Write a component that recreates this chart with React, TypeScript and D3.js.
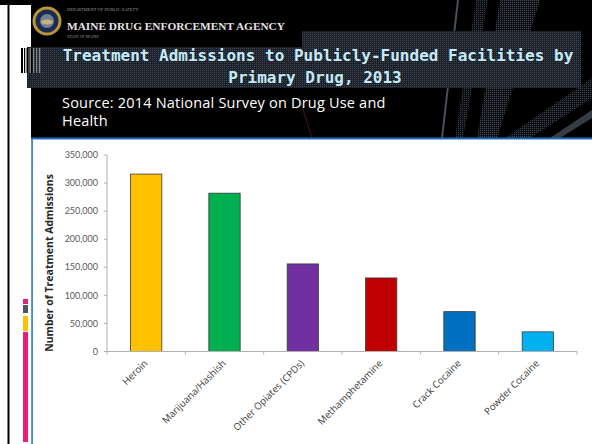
import React from "react";
import * as d3 from "d3";

const categories = [
  "Heroin",
  "Marijuana/Hashish",
  "Other Opiates (CPDs)",
  "Methamphetamine",
  "Crack Cocaine",
  "Powder Cocaine",
];
const admissions = [316000, 282000, 156000, 131000, 71000, 35000];
const barColors = ["#FFC000", "#00B050", "#7030A0", "#C00000", "#0070C0", "#00B0F0"];
const yTicks = [0, 50000, 100000, 150000, 200000, 250000, 300000, 350000];
const titleLines = ["Treatment Admissions to Publicly-Funded Facilities by", "Primary Drug, 2013"];
const sourceLines = ["Source: 2014 National Survey on Drug Use and", "Health"];

const W = 592;
const H = 444;

export default function App() {
  const x = d3.scaleBand<string>().domain(categories).range([107, 577]).paddingInner(0.6).paddingOuter(0.3);
  const y = d3.scaleLinear().domain([0, 350000]).range([351.5, 155]);
  const fmt = d3.format(",");
  const step = x.step();
  const boundaries = d3.range(categories.length + 1).map((i) => 107 + i * step);
  const labelFont = "Lato, 'Open Sans', sans-serif";
  const openFont = "'Open Sans', Lato, sans-serif";

  return (
    <svg width={W} height={H} style={{ position: "fixed", left: 0, top: 0 }} xmlns="http://www.w3.org/2000/svg">
      <defs>
        <pattern id="dots" width="2" height="2" patternUnits="userSpaceOnUse">
          <rect width="2" height="2" fill="#1b2029" />
          <rect width="1" height="1" fill="#3c4654" />
        </pattern>
        <pattern id="dots2" width="2" height="2" patternUnits="userSpaceOnUse">
          <rect width="2" height="2" fill="#101318" />
          <rect width="1" height="1" fill="#4a5563" />
        </pattern>
      </defs>
      <rect width={W} height={H} fill="#ffffff" />
      {/* top border */}
      <rect x={0} y={0} width={W} height={5} fill="#000" />
      {/* header */}
      <rect x={31} y={0} width={W - 31} height={138} fill="#000" />
      {/* diagonal streaks */}
      <polygon points="500,0 540,0 497,138 477,138" fill="url(#dots2)" opacity={0.85} />
      <polygon points="476,0 488,0 463,138 455,138" fill="url(#dots2)" opacity={0.7} />
      <polygon points="457,0 459,0 443,138 441,138" fill="#5a6472" opacity={0.8} />
      <polygon points="592,78 592,98 530,138 505,138" fill="url(#dots2)" opacity={0.8} />
      <polygon points="592,110 592,118 560,138 550,138" fill="#5a6472" opacity={0.6} />
      <line x1={300} y1={100} x2={312} y2={138} stroke="#7a2a2a" strokeWidth={0.6} />
      {/* title box */}
      <polygon points="27,47 302,47 302,31 581,31 581,88 27,88" fill="url(#dots)" />
      {/* barcode */}
      <rect x={21} y={48} width={11} height={25} fill="#fff" />
      {[21, 24, 26.5, 28.5, 30.5].map((bx, i) => (
        <rect key={i} x={bx} y={48} width={i % 2 === 0 ? 2 : 1.2} height={25} fill="#000" />
      ))}
      {[33, 36, 39].map((bx, i) => (
        <rect key={"g" + i} x={bx} y={48} width={1.2} height={25} fill="#888" />
      ))}
      {/* logo */}
      <circle cx={47} cy={21} r={13} fill="#1d2b4f" stroke="#b8963a" strokeWidth={3} />
      <circle cx={47} cy={21} r={7} fill="#6f7f9a" />
      <ellipse cx={47} cy={22} rx={6} ry={2.5} fill="#c9b27a" />
      <text x={67} y={11} fontSize={4.5} fill="#9a9a9a" fontFamily="'Liberation Serif', serif">DEPARTMENT OF PUBLIC SAFETY</text>
      <text x={67} y={30} fontSize={11.3} fontWeight="bold" fill="#e4e4e4" fontFamily="'Liberation Serif', serif">MAINE DRUG ENFORCEMENT AGENCY</text>
      <text x={67} y={38} fontSize={4} fill="#9a9a9a" fontFamily="'Liberation Serif', serif">STATE OF MAINE</text>
      {/* title */}
      <text x={318} y={61} textAnchor="middle" fontSize={16} fontWeight="bold" fill="#c5eaf7" fontFamily="'DejaVu Sans Mono', monospace">{titleLines[0]}</text>
      <text x={315} y={83} textAnchor="middle" fontSize={16} fontWeight="bold" fill="#c5eaf7" fontFamily="'DejaVu Sans Mono', monospace">{titleLines[1]}</text>
      {/* source */}
      {sourceLines.map((s, i) => (
        <text key={i} x={62} y={108 + i * 18} fontSize={14.5} fill="#fff" fontFamily={openFont} letterSpacing={0.2}>{s}</text>
      ))}
      {/* blue rules */}
      <rect x={31} y={137.5} width={W - 31} height={2} fill="#1f6fc0" />
      <rect x={31.3} y={138} width={1.5} height={H - 138} fill="#1f6fc0" />
      {/* left black line */}
      <rect x={7.5} y={5} width={2} height={H - 5} fill="#000" />
      {/* left color bars */}
      <rect x={23} y={299} width={5} height={5} fill="#E91E7A" />
      <rect x={23} y={305} width={5} height={8} fill="#4a5568" />
      <rect x={23} y={316} width={5} height={15} fill="#FFC000" />
      <rect x={23} y={332} width={5} height={110} fill="#E91E7A" />

      {/* chart */}
      <g>
        {categories.map((c, i) => (
          <rect
            key={c}
            x={x(c)!}
            y={y(admissions[i])}
            width={x.bandwidth()}
            height={y(0) - y(admissions[i])}
            fill={barColors[i]}
            stroke="#3a3a3a"
            strokeWidth={0.8}
          />
        ))}
        {/* y axis */}
        <line x1={107} x2={107} y1={y(0)} y2={y(350000)} stroke="#b0b0b0" strokeWidth={1} />
        {yTicks.map((t) => (
          <g key={t}>
            <line x1={104} x2={107} y1={y(t)} y2={y(t)} stroke="#b0b0b0" />
            <text x={98} y={y(t)} dy="0.35em" textAnchor="end" fontSize={9} fill="#595959" fontFamily={labelFont}>{fmt(t)}</text>
          </g>
        ))}
        {/* x axis */}
        <line x1={107} x2={577} y1={y(0)} y2={y(0)} stroke="#b0b0b0" strokeWidth={1} />
        {boundaries.map((bx, i) => (
          <line key={i} x1={bx} x2={bx} y1={y(0)} y2={y(0) + 3} stroke="#b0b0b0" />
        ))}
        {categories.map((c) => {
          const cx = x(c)! + x.bandwidth() / 2 + 2;
          const cy = 364;
          return (
            <text key={c} x={cx} y={cy} textAnchor="end" fontSize={9.7} fill="#404040" fontFamily={openFont} transform={`rotate(-45, ${cx}, ${cy})`}>{c}</text>
          );
        })}
        <text transform="translate(53,263) rotate(-90)" textAnchor="middle" fontSize={10.5} fontWeight="bold" fill="#262626" fontFamily={openFont}>Number of Treatment Admissions</text>
      </g>
    </svg>
  );
}
